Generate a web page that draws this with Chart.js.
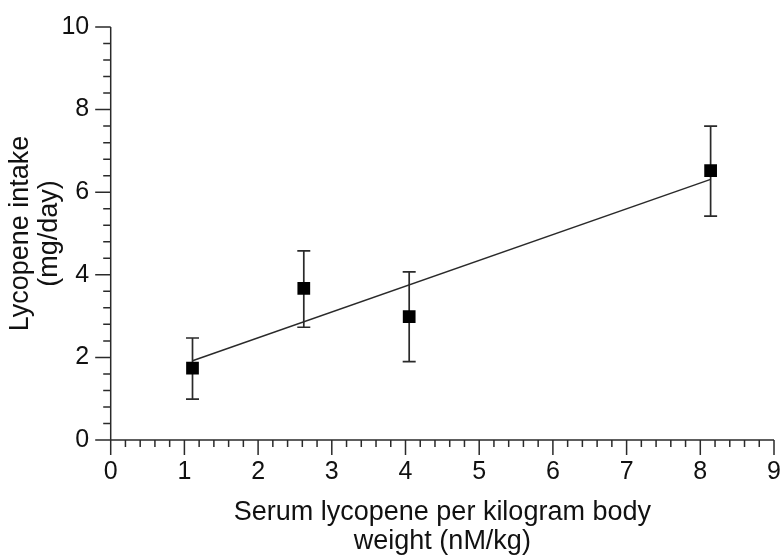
<!DOCTYPE html>
<html>
<head>
<meta charset="utf-8">
<title>Lycopene intake vs serum lycopene</title>
<script src="https://cdn.jsdelivr.net/npm/chart.js@4.4.0/dist/chart.umd.min.js"></script>
<style>
  html, body { margin: 0; padding: 0; background: #fff; }
  canvas { display: block; }
</style>
</head>
<body>
<canvas id="lycopeneChart" width="783" height="556"></canvas>
<script>
// values
const serumValues = [1.11, 2.62, 4.05, 8.14];
const intakeValues = [1.74, 3.67, 2.99, 6.52];
const intakeLow = [0.99, 2.73, 1.90, 5.42];
const intakeHigh = [2.47, 4.58, 4.07, 7.60];
const fitX = [1.11, 8.14];
const fitY = [1.92, 6.31];
const xTickValues = [0, 1, 2, 3, 4, 5, 6, 7, 8, 9];
const yTickValues = [0, 2, 4, 6, 8, 10];
const xTitleLines = ['Serum lycopene per kilogram body', 'weight (nM/kg)'];
const yTitleLines = ['Lycopene intake', '(mg/day)'];

const fontFamily = '"Liberation Sans", Arial, Helvetica, sans-serif';
const inkColor = '#111';
const lineColor = '#2a2a2a';

// vertical error bars with caps, under the squares
const errorBars = {
    id: 'errorBars',
    beforeDatasetsDraw(chart) {
        const { ctx, scales: { x, y } } = chart;
        ctx.save();
        ctx.strokeStyle = lineColor;
        ctx.lineWidth = 1.7;
        serumValues.forEach((s, i) => {
            const px = x.getPixelForValue(s);
            const top = y.getPixelForValue(intakeHigh[i]);
            const bot = y.getPixelForValue(intakeLow[i]);
            ctx.beginPath();
            ctx.moveTo(px, top);
            ctx.lineTo(px, bot);
            ctx.moveTo(px - 6.5, top);
            ctx.lineTo(px + 6.5, top);
            ctx.moveTo(px - 6.5, bot);
            ctx.lineTo(px + 6.5, bot);
            ctx.stroke();
        });
        ctx.restore();
    }
};

// axis lines with outward major/minor ticks
const axisTicks = {
    id: 'axisTicks',
    afterDraw(chart) {
        const { ctx, chartArea: a, scales: { x, y } } = chart;
        ctx.save();
        ctx.strokeStyle = lineColor;
        ctx.lineWidth = 1.5;
        ctx.beginPath();
        ctx.moveTo(a.left, a.top);
        ctx.lineTo(a.left, a.bottom);
        ctx.lineTo(a.right, a.bottom);
        for (let i = 0; i <= 45; i++) {
            const px = x.getPixelForValue(i * 0.2);
            const len = i % 5 === 0 ? 15 : 7;
            ctx.moveTo(px, a.bottom);
            ctx.lineTo(px, a.bottom + len);
        }
        for (let i = 0; i <= 25; i++) {
            const py = y.getPixelForValue(i * 0.4);
            const len = i % 5 === 0 ? 15.5 : 7.5;
            ctx.moveTo(a.left, py);
            ctx.lineTo(a.left - len, py);
        }
        ctx.stroke();
        ctx.restore();
    }
};

const ctx = document.getElementById('lycopeneChart').getContext('2d');
const lycopeneChart = new Chart(ctx, {
    type: 'scatter',
    data: {
        datasets: [
            {
                label: 'Lycopene intake',
                data: serumValues.map((v, i) => ({ x: v, y: intakeValues[i] })),
                pointStyle: 'rect',
                pointRadius: 9,
                backgroundColor: '#000',
                borderWidth: 0,
            },
            {
                type: 'line',
                label: 'Fit',
                data: fitX.map((v, i) => ({ x: v, y: fitY[i] })),
                borderColor: lineColor,
                borderWidth: 1.5,
                pointRadius: 0,
                fill: false,
            },
        ],
    },
    options: {
        responsive: false,
        animation: false,
        layout: { padding: { top: 27, right: 8.7, left: 0, bottom: 0 } },
        plugins: {
            legend: { display: false },
            tooltip: { enabled: false },
        },
        scales: {
            x: {
                type: 'linear',
                min: 0,
                max: 9,
                grid: { display: false, drawTicks: false },
                border: { display: false },
                afterBuildTicks: (s) => { s.ticks = xTickValues.map(v => ({ value: v })); },
                afterFit: (s) => {
                    s.height = 116;
                    s.paddingLeft = 0;
                    s.paddingRight = 0;
                },
                ticks: { color: inkColor, font: { family: fontFamily, size: 25 }, padding: 17 },
                title: {
                    display: true,
                    text: xTitleLines,
                    color: inkColor,
                    font: { family: fontFamily, size: 27, lineHeight: 1.074 },
                    padding: { top: 0, bottom: 0 },
                },
            },
            y: {
                type: 'linear',
                min: 0,
                max: 10,
                grid: { display: false, drawTicks: false },
                border: { display: false },
                afterBuildTicks: (s) => { s.ticks = yTickValues.map(v => ({ value: v })); },
                afterFit: (s) => {
                    s.width = 110.7;
                    s.paddingTop = 0;
                    s.paddingBottom = 0;
                },
                ticks: { color: inkColor, font: { family: fontFamily, size: 25 }, padding: 21.5 },
                title: {
                    display: true,
                    text: yTitleLines,
                    color: inkColor,
                    font: { family: fontFamily, size: 27, lineHeight: 1.074 },
                    padding: { top: 6.5, bottom: 0 },
                },
            },
        },
    },
    plugins: [errorBars, axisTicks],
});
</script>
</body>
</html>
